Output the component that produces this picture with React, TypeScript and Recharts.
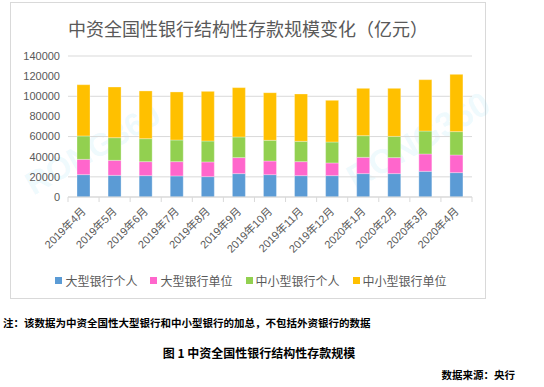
import { Bar, BarChart, CartesianGrid, Legend, XAxis, YAxis } from "recharts"

const months = [
  "2019年4月", "2019年5月", "2019年6月", "2019年7月", "2019年8月", "2019年9月", "2019年10月",
  "2019年11月", "2019年12月", "2020年1月", "2020年2月", "2020年3月", "2020年4月",
]
const bigPersonal = [22200, 21500, 21200, 20900, 20200, 23200, 22200, 21200, 21200, 23200, 23200, 25500, 24200]
const bigCorporate = [15200, 14900, 13900, 14200, 14600, 15900, 13500, 13900, 12600, 16200, 15900, 17200, 17500]
const smallPersonal = [23200, 22500, 22800, 21500, 20800, 20500, 20600, 20200, 20800, 21500, 21100, 22800, 23200]
const smallCorporate = [50900, 50300, 47400, 47700, 49300, 49000, 47300, 47000, 41400, 47000, 47700, 51000, 56900]
const yTicks = [0, 20000, 40000, 60000, 80000, 100000, 120000, 140000]

const series = [
  { key: "bigPersonal", name: "大型银行个人", color: "#5B9BD5" },
  { key: "bigCorporate", name: "大型银行单位", color: "#FF66CC" },
  { key: "smallPersonal", name: "中小型银行个人", color: "#92D050" },
  { key: "smallCorporate", name: "中小型银行单位", color: "#FFC000" },
]

const data = months.map((m, i) => ({
  name: m,
  bigPersonal: bigPersonal[i],
  bigCorporate: bigCorporate[i],
  smallPersonal: smallPersonal[i],
  smallCorporate: smallCorporate[i],
}))

const FONT = "Arial, 'Liberation Sans', 'Noto Sans CJK SC', sans-serif"
const CJK = "'Noto Sans CJK SC', sans-serif"
const CHART_W = 476
const CHART_H = 297
const MARGIN = { top: 54, right: 14, left: 0, bottom: 0 }
const Y_W = 58
const BAND = (CHART_W - MARGIN.right - Y_W) / months.length

function MonthTick(props: any) {
  const { x, y, payload, index } = props
  return (
    <g>
      <line x1={x - BAND / 2} x2={x - BAND / 2} y1={y - 8} y2={y - 3} stroke="#d9d9d9" />
      {index === months.length - 1 && (
        <line x1={x + BAND / 2} x2={x + BAND / 2} y1={y - 8} y2={y - 3} stroke="#d9d9d9" />
      )}
      <text
        x={x + 3}
        y={y + 7}
        transform={`rotate(-45 ${x + 3} ${y + 7})`}
        textAnchor="end"
        fontSize={11}
        fill="#595959"
        fontFamily={FONT}
      >
        {payload.value}
      </text>
    </g>
  )
}

function LegendContent() {
  return (
    <div style={{ display: "flex", justifyContent: "center", gap: 13, fontSize: 12, color: "#595959", fontFamily: FONT, paddingLeft: 6 }}>
      {series.map((s) => (
        <div key={s.key} style={{ display: "flex", alignItems: "center" }}>
          <span style={{ width: 7, height: 7, background: s.color, display: "inline-block", marginRight: 3 }} />
          {s.name}
        </div>
      ))}
    </div>
  )
}

export default function App() {
  return (
    <div style={{ position: "absolute", left: 0, top: 0, width: 544, height: 387, background: "#fff", fontFamily: FONT }}>
      <div
        style={{
          position: "absolute",
          left: 10,
          top: 2,
          width: CHART_W,
          height: CHART_H,
          border: "1px solid #d9d9d9",
          boxSizing: "border-box",
        }}
      />
      {/* faint watermark, behind the bars */}
      <svg width={544} height={300} style={{ position: "absolute", left: 0, top: 0 }}>
        <text x={92} y={160} transform="rotate(-30 92 148)" textAnchor="middle" fontSize={32} fontWeight="bold"
          fontFamily={FONT} fill="#7fd8f5" fillOpacity={0.14}>RONG360</text>
        <text x={418} y={152} transform="rotate(-30 418 140)" textAnchor="middle" fontSize={34} fontWeight="bold"
          fontFamily={FONT} fill="#7fd8f5" fillOpacity={0.14}>RONG360</text>
      </svg>
      <div
        style={{
          position: "absolute",
          left: 10,
          top: 17,
          width: CHART_W,
          textAlign: "center",
          fontSize: 18,
          color: "#595959",
          fontFamily: CJK,
          lineHeight: "22px",
        }}
      >
        中资全国性银行结构性存款规模变化（亿元）
      </div>
      <div style={{ position: "absolute", left: 10, top: 2 }}>
        <BarChart width={CHART_W} height={CHART_H} data={data} margin={MARGIN} barSize={13}>
          <CartesianGrid vertical={false} stroke="#d9d9d9" />
          <XAxis
            dataKey="name"
            height={CHART_H - MARGIN.top - 141}
            stroke="#d9d9d9"
            tickLine={false}
            interval={0}
            tick={<MonthTick />}
          />
          <YAxis
            width={Y_W}
            domain={[0, 140000]}
            ticks={yTicks}
            axisLine={false}
            tickLine={false}
            tick={{ fontSize: 11, fill: "#595959", fontFamily: FONT }}
          />
          <Legend
            verticalAlign="middle"
            content={<LegendContent />}
            wrapperStyle={{ top: 270, left: 0, width: CHART_W }}
          />
          {series.map((s) => (
            <Bar
              key={s.key}
              dataKey={s.key}
              name={s.name}
              stackId="a"
              fill={s.color}
              stroke="#ffffff"
              strokeOpacity={0.5}
              strokeWidth={0.6}
              isAnimationActive={false}
            />
          ))}
        </BarChart>
      </div>
      <div style={{ position: "absolute", left: 3, top: 316, fontSize: 10.5, fontWeight: "bold", color: "#000", fontFamily: CJK, lineHeight: "14px" }}>
        注：该数据为中资全国性大型银行和中小型银行的加总，不包括外资银行的数据
      </div>
      <div style={{ position: "absolute", left: 0, width: 518, top: 345, textAlign: "center", fontSize: 12, fontWeight: "bold", color: "#000", fontFamily: CJK, lineHeight: "16px" }}>
        图 1 中资全国性银行结构性存款规模
      </div>
      <div style={{ position: "absolute", right: 29, top: 368, fontSize: 10.5, fontWeight: "bold", color: "#000", fontFamily: CJK, lineHeight: "14px" }}>
        数据来源：央行
      </div>
    </div>
  )
}
